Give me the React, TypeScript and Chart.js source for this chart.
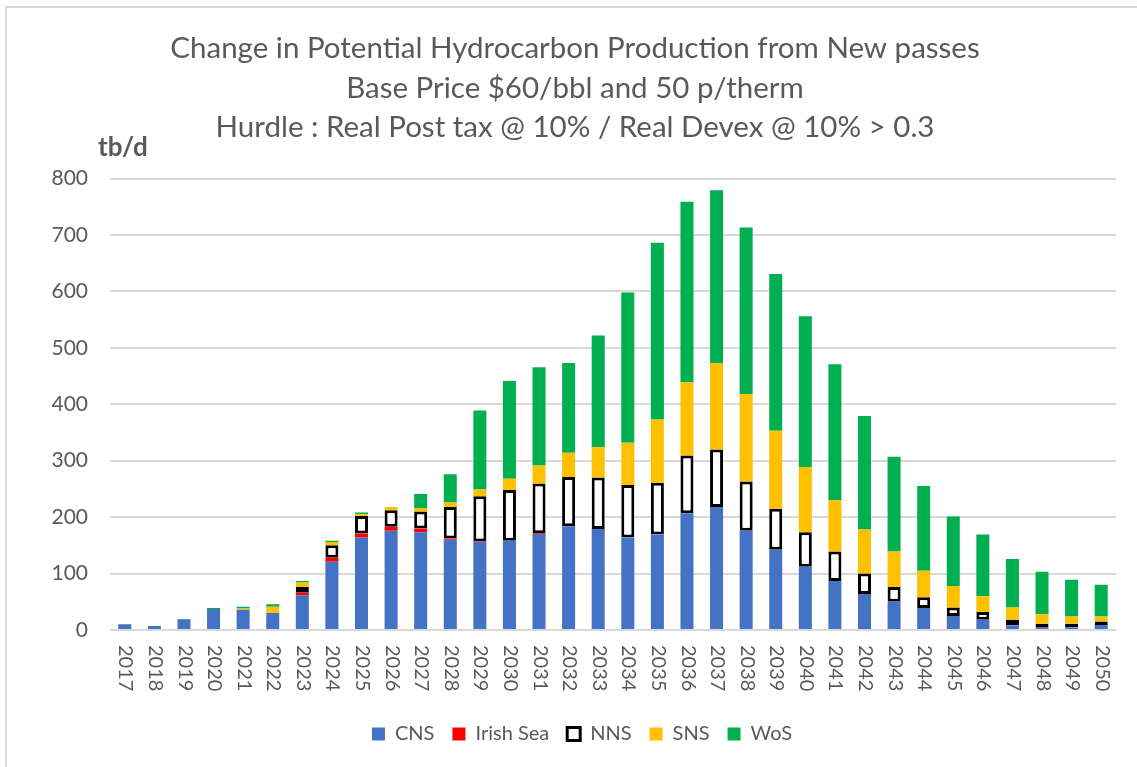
import React, { useEffect, useRef } from "react";
import { Chart, registerables } from "chart.js";

Chart.register(...registerables);

const years = [
  "2017", "2018", "2019", "2020", "2021", "2022", "2023", "2024", "2025", "2026",
  "2027", "2028", "2029", "2030", "2031", "2032", "2033", "2034", "2035", "2036",
  "2037", "2038", "2039", "2040", "2041", "2042", "2043", "2044", "2045", "2046",
  "2047", "2048", "2049", "2050",
];

const cns = [10, 7, 18, 37, 36, 30, 61, 121, 164, 176, 173, 160, 156, 158, 170, 184, 179, 164, 169, 207, 218, 176, 142, 112, 87, 64, 50, 39, 25, 18, 8, 4, 5, 9];
const irishSea = [0, 0, 0, 0, 0, 0, 5, 7, 7, 7, 7, 2, 1, 0, 1.5, 0, 0, 0, 0, 0, 0, 0, 0, 0, 0, 0, 0, 0, 0, 0, 0, 0, 0, 0];
const nns = [0, 0, 0, 0, 0, 0, 10, 22, 31, 29, 30, 56, 80, 90, 88, 87, 91, 93, 92, 102, 102, 87, 73, 61, 52, 36, 26, 19, 15, 14, 10, 7, 6, 6];
const sns = [0, 0, 0, 0, 2, 11, 8, 6, 3, 6, 6, 8, 12, 20, 32, 43, 54, 75, 112, 130, 153, 155, 138, 116, 91, 78, 63, 47, 38, 28, 22, 17, 13, 9];
const wos = [0, 0, 1.5, 2, 3, 4.5, 3, 2, 3, 0, 25, 50, 140, 173, 174, 159, 198, 266, 313, 320, 306, 295, 278, 267, 241, 201, 168, 150, 123, 109, 86, 75, 65, 56];

const titleLines = [
  "Change in Potential Hydrocarbon Production from New passes",
  "Base Price $60/bbl and 50 p/therm",
  "Hurdle : Real Post tax @ 10% / Real Devex @ 10% > 0.3",
];
const unitLabel = "tb/d";
const yMin = 0;
const yMax = 800;
const yStep = 100;

const FONT = "Lato, 'Open Sans', sans-serif";
const TEXT = "#595959";

const xLabelPlugin = {
  id: "rotatedXLabels",
  afterDraw(chart: any) {
    const { ctx, chartArea } = chart;
    const x = chart.scales.x;
    const labels = chart.data.labels as string[];
    ctx.save();
    ctx.font = `20px ${FONT}`;
    ctx.fillStyle = TEXT;
    ctx.textAlign = "left";
    ctx.textBaseline = "middle";
    labels.forEach((lab, i) => {
      const px = x.getPixelForValue(i);
      ctx.save();
      ctx.translate(px + 1, chartArea.bottom + 15);
      ctx.rotate(Math.PI / 2);
      ctx.fillText(lab, 0, 0);
      ctx.restore();
    });
    ctx.restore();
  },
};

const unitPlugin = {
  id: "unitLabel",
  afterDraw(chart: any) {
    const { ctx, chartArea } = chart;
    ctx.save();
    ctx.font = `bold 26px ${FONT}`;
    ctx.fillStyle = TEXT;
    ctx.textAlign = "left";
    ctx.textBaseline = "middle";
    ctx.fillText(unitLabel, chartArea.left - 12, chartArea.top - 31);
    ctx.restore();
  },
};

const shiftPlugin = {
  id: "shiftBoxes",
  afterLayout(chart: any) {
    const lg = chart.legend;
    if (lg) {
      lg.left += 24;
      lg.right += 24;
    }
    const tt = chart.titleBlock;
    if (tt) {
      tt.left += 17;
      tt.right += 17;
    }
  },
};

export default function App() {
  const canvasRef = useRef<HTMLCanvasElement | null>(null);

  useEffect(() => {
    document.body.style.margin = "0";
    const canvas = canvasRef.current;
    if (!canvas) return;
    const chart = new Chart(canvas, {
      type: "bar",
      data: {
        labels: years,
        datasets: [
          { label: "CNS", data: cns, backgroundColor: "#4472C4", borderWidth: 0 },
          { label: "Irish Sea", data: irishSea, backgroundColor: "#FF0000", borderWidth: 0 },
          {
            label: "NNS",
            data: nns,
            backgroundColor: "#FFFFFF",
            borderColor: "#000000",
            borderWidth: 3,
            borderSkipped: false,
          },
          { label: "SNS", data: sns, backgroundColor: "#FFC000", borderWidth: 0 },
          { label: "WoS", data: wos, backgroundColor: "#00B050", borderWidth: 0 },
        ],
      },
      options: {
        animation: false,
        responsive: false,
        devicePixelRatio: 1,
        datasets: { bar: { barPercentage: 0.44, categoryPercentage: 1 } },
        layout: { padding: { left: 0, right: 21, top: 0, bottom: 13 } },
        plugins: {
          title: {
            display: true,
            text: titleLines,
            color: TEXT,
            font: { family: FONT, size: 29.5, weight: "normal", lineHeight: 1.339 },
            padding: { top: 29, bottom: 31 },
          },
          legend: {
            display: true,
            position: "bottom",
            labels: {
              color: TEXT,
              font: { family: FONT, size: 20 },
              boxWidth: 13,
              boxHeight: 13,
              padding: 18,
            },
          },
          tooltip: { enabled: false },
        },
        scales: {
          x: {
            stacked: true,
            grid: { display: false },
            border: { display: false },
            ticks: { display: false },
            afterFit(scale: any) {
              scale.height = 76;
            },
          },
          y: {
            stacked: true,
            min: yMin,
            max: yMax,
            ticks: {
              stepSize: yStep,
              color: TEXT,
              font: { family: FONT, size: 21 },
              padding: 22,
            },
            grid: { color: "#d9d9d9", lineWidth: 2, drawTicks: false },
            border: { display: false },
            afterFit(scale: any) {
              scale.width = 110;
            },
          },
        },
      },
      plugins: [xLabelPlugin, unitPlugin, shiftPlugin],
    });
    return () => chart.destroy();
  }, []);

  return (
    <div style={{ position: "relative", width: 1137, height: 767, overflow: "hidden", background: "#fff" }}>
      <canvas ref={canvasRef} width={1137} height={767} style={{ display: "block" }} />
      <div
        style={{
          position: "absolute",
          left: 5,
          top: 6,
          width: 1200,
          height: 800,
          borderLeft: "2px solid #d9d9d9",
          borderTop: "2px solid #d9d9d9",
          pointerEvents: "none",
        }}
      />
    </div>
  );
}
